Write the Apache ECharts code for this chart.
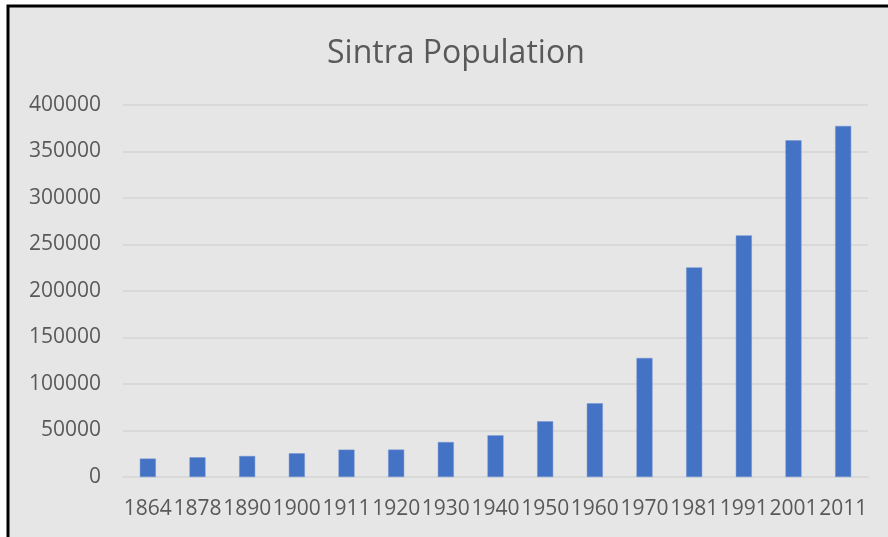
<!DOCTYPE html>
<html>
<head>
<meta charset="utf-8">
<script src="https://cdn.jsdelivr.net/npm/echarts@6/dist/echarts.min.js"></script>
<style>
  html, body { margin: 0; padding: 0; background: #fff; }
  #chart { width: 888px; height: 537px; }
</style>
</head>
<body>
<div id="chart"></div>
<script>
const years = ["1864", "1878", "1890", "1900", "1911", "1920", "1930", "1940", "1950", "1960", "1970", "1981", "1991", "2001", "2011"];
const population = [19800, 21200, 22600, 25500, 29400, 29500, 37600, 44800, 59900, 79200, 128000, 225400, 259800, 362000, 377500];

const chart = echarts.init(document.getElementById("chart"));
const option = {
  animation: false,
  graphic: [
    {
      type: "rect",
      z: -10,
      shape: { x: 8, y: 6, width: 900, height: 600 },
      style: { fill: "#e7e6e6", stroke: "#000", lineWidth: 3 }
    }
  ],
  title: {
    text: "Sintra Population",
    left: 322,
    top: 33,
    textStyle: { fontFamily: "Open Sans", fontSize: 32, fontWeight: "normal", color: "#595959" }
  },
  grid: { left: 123, right: 20, top: 105, bottom: 60 },
  xAxis: {
    type: "category",
    data: years,
    axisLine: { lineStyle: { color: "#d9d9d9", width: 2 } },
    axisTick: { show: false },
    axisLabel: {
      interval: 0,
      margin: 22,
      fontFamily: "Open Sans",
      fontSize: 21,
      color: "#595959"
    }
  },
  yAxis: {
    type: "value",
    min: 0,
    max: 400000,
    interval: 50000,
    axisLine: { show: false },
    axisTick: { show: false },
    splitLine: { lineStyle: { color: "#d9d9d9", width: 2 } },
    axisLabel: {
      margin: 22,
      fontFamily: "Open Sans",
      fontSize: 21,
      color: "#595959",
      formatter: function (v) { return String(v); }
    }
  },
  series: [
    {
      type: "bar",
      data: population,
      barWidth: 16,
      itemStyle: { color: "#4472c4", borderColor: "#6f93d3", borderWidth: 0.5 }
    }
  ]
};
chart.setOption(option);
</script>
</body>
</html>
